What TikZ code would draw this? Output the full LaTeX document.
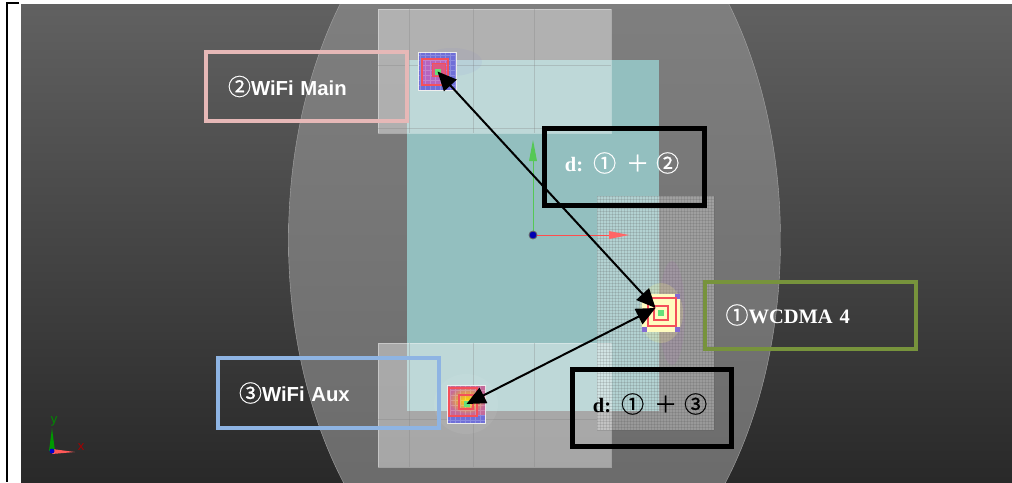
\documentclass[tikz,border=0pt]{standalone}
\usepackage{fontspec}
\setmainfont{Liberation Serif}
\setsansfont{Liberation Sans}
\newfontfamily\cjk[RawFeature={embolden=0.6}]{Noto Sans CJK SC}
\usetikzlibrary{arrows.meta}
\usetikzlibrary{positioning}
\definecolor{tagpink}{HTML}{E6B8B7}
\definecolor{taggreen}{HTML}{77933C}
\definecolor{tagblue}{HTML}{8EB4E3}
\definecolor{solver}{HTML}{93BFBF}
\definecolor{spotblue}{HTML}{6F6FD8}
\definecolor{spotpink}{HTML}{B565C0}
\definecolor{spotred}{HTML}{F4505A}
\definecolor{spotgreen}{HTML}{66E07A}
\definecolor{axisgreen}{HTML}{55C855}
\newcommand{\circled}[1]{{\cjk\mdseries\fontsize{23}{24}\selectfont #1}}
\tikzstyle{tag}=[draw, line width=4pt, inner sep=0pt, outer sep=0pt, anchor=north west, text=white, align=left]
\tikzstyle{sumtag}=[tag, draw=black, line width=5pt, align=center, text depth=9pt]
\tikzstyle{wifitext}=[font=\sffamily\bfseries\fontsize{20.3}{24}\selectfont]
\tikzstyle{wcdmatext}=[font=\rmfamily\bfseries\fontsize{20.5}{24}\selectfont]
\tikzstyle{spot}=[rectangle, inner sep=0pt, draw=white!85!gray, line width=1pt, minimum size=38pt]
\tikzstyle{ring}=[rectangle, inner sep=0pt, draw=spotred, line width=1.3pt]
\tikzstyle{hotdot}=[rectangle, inner sep=0pt, fill=spotgreen, minimum size=6pt]
\tikzstyle{corner}=[rectangle, inner sep=0pt, fill=spotblue!70!spotpink, minimum size=5pt]
\tikzstyle{dist}=[{Triangle[length=19pt,width=17pt]}-{Triangle[length=19pt,width=17pt]}, line width=2pt]
\begin{document}
\begin{tikzpicture}[x=1pt,y=-1pt]
\useasboundingbox (0,0) rectangle (1012,482);
\fill[white] (0,0) rectangle (1012,482);
\draw[black, line width=2.6pt] (19,3) -- (7,3) -- (7,482);
\shade[top color=black!62, bottom color=black!84] (21,4) rectangle (1012,482);
\begin{scope}
\clip (21,4) rectangle (1012,482);
\shade[top color=black!48, bottom color=black!60, draw=black!35] (534.5,240) ellipse [x radius=246, y radius=385];
\end{scope}
\fill[solver] (407,60) rectangle (659,411);
% boards
\foreach \top in {9,343}{
  \fill[white, opacity=.4] (378,\top) rectangle (611,\top+124);
  \draw[white, opacity=.35, line width=.8pt] (378,\top) rectangle (611,\top+124);
  \foreach \x in {409,473,534}
    \draw[black!50, opacity=.3, line width=.7pt] (\x,\top) -- (\x,\top+124);
}
\draw[black!50, opacity=.3, line width=.7pt] (378,65) -- (611,65);
\draw[black!50, opacity=.3, line width=.7pt] (378,128) -- (611,128);
\draw[black!50, opacity=.3, line width=.7pt] (378,419) -- (611,419);
% mesh
\fill[white, opacity=.3] (597,196) rectangle (714,430);
\foreach \x in {597,600,...,714}
  \draw[black!70, opacity=.16, line width=.5pt] (\x,196) -- (\x,430);
\foreach \y in {196,199,...,430}
  \draw[black!70, opacity=.16, line width=.5pt] (597,\y) -- (714,\y);
% axes
\draw[axisgreen, line width=1pt] (533,235) -- (533,150);
\fill[axisgreen] (533,140) -- (537,161) -- (529,161) -- cycle;
\draw[red!70!white, line width=1pt] (533,235) -- (615,235);
\fill[red!60!white] (629,235) -- (609,231) -- (609,239) -- cycle;
\node[circle, fill=blue!70!black, draw=black!60, line width=.8pt, inner sep=0pt, minimum size=8pt] (origin) at (533,235){};
% hot spots
\fill[spotpink, opacity=.12] (672,313) ellipse [x radius=13, y radius=52];
\fill[yellow!50!white, opacity=.2] (661,313) ellipse [x radius=22, y radius=30];
\fill[spotblue, opacity=.07] (452,62) ellipse [x radius=30, y radius=14];
\fill[white, opacity=.06] (466,404) ellipse [x radius=32, y radius=30];
\node[spot, fill=spotblue] (mainspot) at (437.5,71.5){};
\node[rectangle, fill=spotpink, inner sep=0pt, minimum size=26pt] (mainglow) at (435,72){};
\draw[white, opacity=.2, line width=.5pt, step=5pt] (418,52) grid (457,91);
\node[ring, minimum size=26pt] (mainring) at (435,72){};
\node[ring, fill=spotpink!40!spotred, minimum size=13pt] (maincore) at (439,70){};
\node[hotdot] (maindot) at (438,72){};
\node[spot, draw=none, fill=yellow!25!white] (wcdmaspot) at (661,313){};
\node[corner] (wcdmaa) at (644.5,296.5){};
\node[corner] (wcdmab) at (677.5,296.5){};
\node[corner] (wcdmac) at (644.5,329.5){};
\node[corner] (wcdmad) at (677.5,329.5){};
\node[ring, line width=1.6pt, minimum size=28pt] (wcdmaring) at (662,312){};
\node[ring, line width=1.6pt, minimum size=14pt] (wcdmacore) at (661,313){};
\node[hotdot] (wcdmadot) at (661,313){};
\node[spot, fill=spotblue] (auxspot) at (466.5,404){};
\shade[inner color=yellow!70!orange, outer color=spotpink!80!orange] (448,386) rectangle (485,414);
\draw[white, opacity=.2, line width=.5pt, step=5pt] (447,385) grid (486,423);
\node[ring, minimum size=28pt] (auxring) at (463,402){};
\node[ring, minimum size=14pt] (auxcore) at (466,402){};
\node[hotdot] (auxdot) at (466.5,403.5){};
% small triad
\fill[green!60!black] (52,428) -- (55,451) -- (49,451) -- cycle;
\fill[red!65!white] (75,452) -- (52,449) -- (52,454) -- cycle;
\fill[blue!80!black] (52,451) circle (2.5);
\node[font=\sffamily\fontsize{13}{14}\selectfont, text=green!55!black, inner sep=0pt] (ylabel) at (54,421){y};
\node[font=\sffamily\fontsize{13}{14}\selectfont, text=red!65!black, inner sep=0pt] (xlabel) at (81,447){x};
% tags
\node[tag, draw=tagpink, wifitext, minimum height=69pt, text width=157pt, inner xsep=22pt] (maintag) at (206,52){\circled{②}WiFi Main};
\node[tag, draw=tagblue, wifitext, minimum height=70pt, text width=179pt, inner xsep=21pt] (auxtag) at (218,358){\circled{③}WiFi Aux};
\node[tag, draw=taggreen, wcdmatext, minimum height=67pt, text width=169pt, inner xsep=21pt] (wcdmatag) at (704.5,281.5){\circled{①}WCDMA 4};
\coordinate (wcdmatip) at (655.5,308);
\draw[dist] (mainspot.center) -- (wcdmatip);
\draw[dist] (auxspot.center) -- (wcdmatip);
\node[sumtag, wcdmatext, minimum width=160pt, minimum height=77pt] (maindist) at (544,128){\hspace*{-4pt}d:\hspace{10pt}\circled{①\hspace{10pt}＋\hspace{7pt}②}};
\node[sumtag, text=black, wcdmatext, minimum width=159pt, minimum height=77pt] (auxdist) at (572.5,369){\hspace*{-4pt}d:\hspace{10pt}\circled{①\hspace{10pt}＋\hspace{7pt}③}};
\end{tikzpicture}
\end{document}
